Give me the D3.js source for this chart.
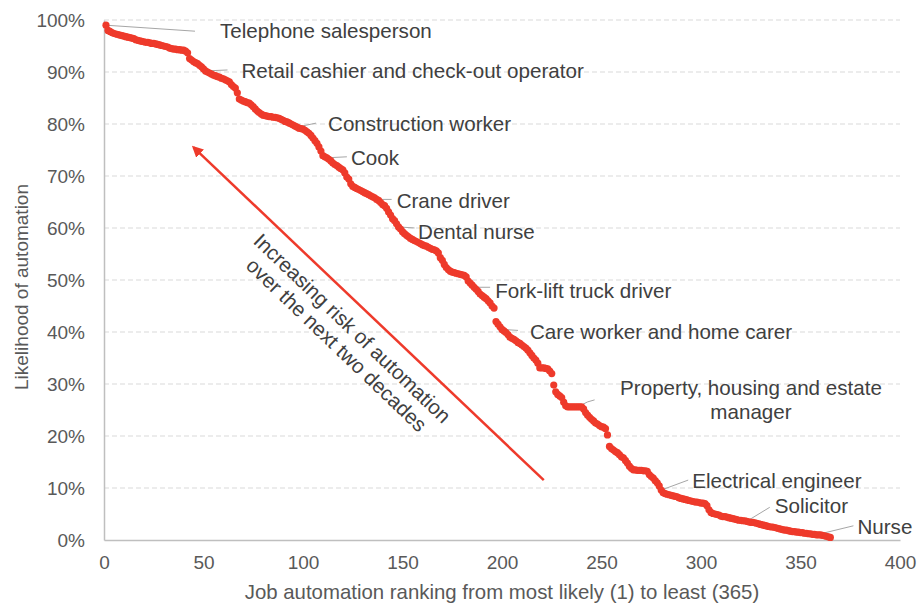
<!DOCTYPE html>
<html>
<head>
<meta charset="utf-8">
<script src="https://cdn.jsdelivr.net/npm/d3@7"></script>
<style>
  body { margin: 0; background: #fff; }
  text { font-family: "Liberation Sans", Arial, sans-serif; }
</style>
</head>
<body>
<div id="plot"></div>
<script>
// likelihood of automation (%) for jobs ranked 1..365
const likelihood = [
  99.0, 98.0, 97.8, 97.6, 97.4, 97.3, 97.2, 97.1, 97.0, 96.9,
  96.8, 96.7, 96.6, 96.5, 96.4, 96.2, 96.1, 96.0, 95.9, 95.8,
  95.7, 95.7, 95.6, 95.5, 95.5, 95.4, 95.3, 95.2, 95.1, 95.0,
  94.9, 94.8, 94.6, 94.5, 94.4, 94.4, 94.3, 94.3, 94.2, 94.2,
  94.0, 93.7, 92.6, 92.3, 92.0, 91.8, 91.6, 91.3, 91.0, 90.6,
  90.2, 90.0, 89.8, 89.6, 89.4, 89.3, 89.1, 89.0, 88.8, 88.7,
  88.5, 88.3, 88.1, 87.6, 87.2, 86.9, 86.0, 84.8, 84.6, 84.4,
  84.3, 84.1, 84.0, 83.7, 83.3, 82.9, 82.5, 82.2, 81.9, 81.7,
  81.6, 81.5, 81.4, 81.4, 81.3, 81.3, 81.2, 81.1, 80.9, 80.7,
  80.5, 80.4, 80.2, 80.0, 79.8, 79.6, 79.4, 79.2, 79.1, 79.0,
  78.8, 78.5, 78.2, 77.8, 77.3, 76.8, 76.3, 75.6, 74.8, 73.9,
  73.7, 73.5, 73.2, 72.9, 72.5, 72.2, 72.0, 71.7, 71.4, 71.2,
  70.6, 69.8, 69.4, 68.5, 68.0, 67.8, 67.6, 67.4, 67.2, 67.0,
  66.8, 66.6, 66.4, 66.2, 66.0, 65.8, 65.5, 65.3, 64.9, 64.5,
  64.3, 63.8, 63.1, 62.5, 61.8, 61.4, 60.8, 60.2, 59.8, 59.3,
  58.9, 58.6, 58.3, 58.0, 57.8, 57.6, 57.4, 57.2, 57.0, 56.8,
  56.6, 56.5, 56.3, 56.1, 55.9, 55.8, 55.6, 55.2, 54.3, 53.8,
  53.0, 52.4, 52.0, 51.7, 51.5, 51.4, 51.3, 51.2, 51.1, 51.0,
  50.9, 50.6, 49.8, 49.4, 49.0, 48.6, 48.2, 47.8, 47.3, 47.0,
  46.7, 46.4, 46.0, 45.6, 45.0, 44.6, 42.0, 41.5, 41.0, 40.5,
  40.2, 39.9, 39.5, 39.0, 38.8, 38.6, 38.3, 38.0, 37.8, 37.5,
  37.2, 36.9, 36.5, 36.0, 35.5, 35.0, 34.6, 34.0, 33.1, 33.1,
  33.1, 33.0, 32.9, 32.5, 32.0, 29.8, 28.5, 28.0, 27.7, 27.4,
  26.5, 25.8, 25.6, 25.6, 25.6, 25.6, 25.6, 25.6, 25.6, 25.6,
  25.2, 24.5, 24.0, 23.6, 23.2, 22.9, 22.5, 22.3, 22.0, 21.8,
  21.7, 21.4, 20.2, 18.0, 17.6, 17.3, 17.0, 16.8, 16.4, 16.0,
  15.8, 15.3, 14.8, 14.2, 13.8, 13.5, 13.5, 13.4, 13.4, 13.4,
  13.3, 13.3, 13.2, 12.6, 12.2, 11.9, 11.4, 11.0, 10.4, 9.6,
  9.1, 8.9, 8.8, 8.7, 8.6, 8.5, 8.4, 8.3, 8.1, 8.0,
  7.9, 7.8, 7.7, 7.6, 7.5, 7.4, 7.3, 7.3, 7.2, 7.1,
  7.1, 7.0, 6.6, 5.8, 5.3, 5.1, 5.0, 4.9, 4.8, 4.6,
  4.5, 4.5, 4.4, 4.3, 4.2, 4.1, 4.0, 3.9, 3.8, 3.8,
  3.7, 3.7, 3.6, 3.5, 3.4, 3.4, 3.3, 3.2, 3.1, 3.0,
  2.9, 2.8, 2.7, 2.6, 2.5, 2.5, 2.4, 2.3, 2.2, 2.1,
  2.0, 1.9, 1.9, 1.8, 1.7, 1.6, 1.6, 1.5, 1.5, 1.4,
  1.4, 1.3, 1.3, 1.2, 1.2, 1.1, 1.1, 1.0, 1.0, 1.0,
  0.9, 0.8, 0.7, 0.6, 0.5
];

// labelled jobs and their rank
const labelJobs = ["Telephone salesperson", "Retail cashier and check-out operator", "Construction worker",
  "Cook", "Crane driver", "Dental nurse", "Fork-lift truck driver", "Care worker and home carer",
  "Property, housing and estate manager", "Electrical engineer", "Solicitor", "Nurse"];
const labelRanks = [1, 51, 97, 112, 137, 148, 186, 200, 238, 280, 323, 358];

const xTicks = [0, 50, 100, 150, 200, 250, 300, 350, 400];
const yTicks = [0, 10, 20, 30, 40, 50, 60, 70, 80, 90, 100];

const width = 921, height = 608;
const margin = { top: 20, right: 21, bottom: 68, left: 104 };

const svg = d3.select("#plot").append("svg")
  .attr("width", width)
  .attr("height", height);

const x = d3.scaleLinear().domain([0, 400]).range([margin.left, width - margin.right]);
const y = d3.scaleLinear().domain([0, 100]).range([height - margin.bottom, margin.top]);

// dashed gridlines
svg.append("g")
  .selectAll("line")
  .data(yTicks.filter(d => d > 0))
  .enter().append("line")
  .attr("x1", x(0)).attr("x2", x(400))
  .attr("y1", d => y(d)).attr("y2", d => y(d))
  .attr("stroke", "#d9d9d9")
  .attr("stroke-width", 1.2)
  .attr("stroke-dasharray", "5,3");

// axes
const yAxis = svg.append("g")
  .attr("transform", `translate(${x(0)},0)`)
  .call(d3.axisLeft(y).tickValues(yTicks).tickSize(0).tickPadding(19).tickFormat(d => d + "%"));
const xAxis = svg.append("g")
  .attr("transform", `translate(0,${y(0)})`)
  .call(d3.axisBottom(x).tickValues(xTicks).tickSize(0).tickPadding(16));

[xAxis, yAxis].forEach(a => {
  a.select(".domain").attr("stroke", "#bfbfbf").attr("stroke-width", 1.5);
  a.selectAll("text").attr("fill", "#595959").style("font-size", "19px")
    .style("font-family", "'Liberation Sans', Arial, sans-serif");
});

svg.append("text")
  .attr("x", (x(0) + x(400)) / 2).attr("y", 599)
  .attr("text-anchor", "middle")
  .attr("fill", "#595959").style("font-size", "20.4px")
  .text("Job automation ranking from most likely (1) to least (365)");

svg.append("text")
  .attr("transform", `translate(28,287) rotate(-90)`)
  .attr("text-anchor", "middle")
  .attr("fill", "#595959").style("font-size", "19px")
  .text("Likelihood of automation");

// leader lines + labels, offsets from the labelled dot
const leaderDx = [89, 22, 19, 20, 15, 16, 16, 16, 0, 27, 23, 37];
const leaderDy = [6, -1, -4, -1, 0, 1, 0, 1, 0, -10, -14, -9];
const labelDx = [114, 36, 31, 24, 20, 19.5, 21, 28, 0, 31, 28, 41];
const labelDy = [6, 0, -3, 0, 1.5, 5, 4, 2, 0, -9, -15, -8];

const ann = svg.append("g");
labelJobs.forEach((name, i) => {
  const r = labelRanks[i];
  const px = x(r), py = y(likelihood[r - 1]);
  if (i === 8) {
    // two-line centred label
    ann.append("polyline")
      .attr("points", `${px},${py} ${px + 10},${py - 5} ${px + 17},${py - 7}`)
      .attr("fill", "none").attr("stroke", "#a6a6a6").attr("stroke-width", 1);
    const t = ann.append("text")
      .attr("text-anchor", "middle").attr("fill", "#404040").style("font-size", "20.6px");
    t.append("tspan").attr("x", 751).attr("y", 395).text("Property, housing and estate");
    t.append("tspan").attr("x", 751).attr("y", 419).text("manager");
    return;
  }
  ann.append("line")
    .attr("x1", px).attr("y1", py)
    .attr("x2", px + leaderDx[i]).attr("y2", py + leaderDy[i])
    .attr("stroke", "#a6a6a6").attr("stroke-width", 1);
  ann.append("text")
    .attr("x", px + labelDx[i]).attr("y", py + labelDy[i])
    .attr("dy", "0.35em")
    .attr("fill", "#404040").style("font-size", "20.6px")
    .text(name);
});

// dots
svg.append("g")
  .selectAll("circle")
  .data(likelihood)
  .enter().append("circle")
  .attr("cx", (d, i) => x(i + 1))
  .attr("cy", d => y(d))
  .attr("r", 3.6)
  .attr("fill", "#ee3a2b");

// red arrow
svg.append("defs").append("marker")
  .attr("id", "head")
  .attr("viewBox", "0 0 10 10")
  .attr("refX", 8).attr("refY", 5)
  .attr("markerWidth", 4.5).attr("markerHeight", 4.5)
  .attr("orient", "auto")
  .append("path").attr("d", "M0,0 L10,5 L0,10 z").attr("fill", "#ee3a2b");

svg.append("line")
  .attr("x1", x(221)).attr("y1", y(11.5))
  .attr("x2", x(45)).attr("y2", y(75.5))
  .attr("stroke", "#ee3a2b").attr("stroke-width", 2.5)
  .attr("marker-end", "url(#head)");

const note = svg.append("text")
  .attr("transform", "translate(344,337) rotate(43.7)")
  .attr("text-anchor", "middle")
  .attr("fill", "#404040").style("font-size", "20.6px");
note.append("tspan").attr("x", 0).attr("y", -5).text("Increasing risk of automation");
note.append("tspan").attr("x", 0).attr("y", 18).text("over the next two decades");
</script>
</body>
</html>
